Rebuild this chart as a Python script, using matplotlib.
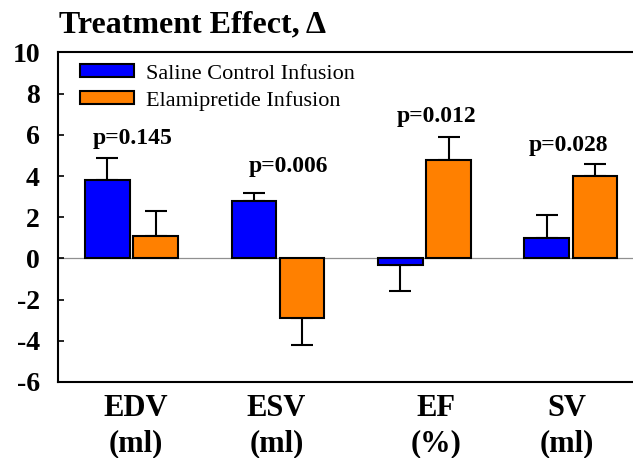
import numpy as np
import matplotlib
matplotlib.use('Agg')
import matplotlib.pyplot as plt
from matplotlib.transforms import blended_transform_factory

plt.rcParams['font.family'] = ['Liberation Serif', 'DejaVu Serif']
plt.rcParams['axes.unicode_minus'] = False

categories = ['EDV\n(ml)', 'ESV\n(ml)', 'EF\n(%)', 'SV\n(ml)']
saline = [3.8, 2.8, -0.3, 1.0]
saline_err = [1.1, 0.4, 1.3, 1.1]
elami = [1.1, -2.9, 4.8, 4.0]
elami_err = [1.2, 1.3, 1.1, 0.6]
p_values = ['p=0.145', 'p=0.006', 'p=0.012', 'p=0.028']
p_heights = [5.8, 4.45, 6.87, 5.5]

x = np.arange(len(categories))
w = 0.305
off = 0.165

fig = plt.figure(figsize=(6.33, 4.58), dpi=100)
ax = fig.add_axes([0.0916, 0.166, 0.9084, 0.7194])


def one_sided(vals, errs):
    # error bar only on the side away from zero
    lo = [e if v < 0 else 0 for v, e in zip(vals, errs)]
    hi = [e if v >= 0 else 0 for v, e in zip(vals, errs)]
    return [lo, hi]


ax.axhline(0, color='#909090', lw=0.9, zorder=1)
ax.bar(x - off, saline, w, color='#0000ff', edgecolor='black', lw=1.5,
       label='Saline Control Infusion', zorder=3)
ax.bar(x + off, elami, w, color='#ff8000', edgecolor='black', lw=1.5,
       label='Elamipretide Infusion', zorder=3)
ax.errorbar(x - off, saline, yerr=one_sided(saline, saline_err), fmt='none',
            ecolor='black', elinewidth=1.5, capsize=7.6, capthick=1.5, zorder=2)
ax.errorbar(x + off, elami, yerr=one_sided(elami, elami_err), fmt='none',
            ecolor='black', elinewidth=1.5, capsize=7.6, capthick=1.5, zorder=2)

p_dx = [0.009, 0.07, 0.085, -0.016]
for i, (p, h) in enumerate(zip(p_values, p_heights)):
    ax.text(x[i] + p_dx[i], h, p, ha='center', va='center',
            fontsize=17, fontweight='bold')

ax.set_xlim(-0.503, 3.425)
ax.set_ylim(-6, 10)
ax.set_yticks(np.arange(-6, 11, 2))
ax.set_xticks([])
ax.spines['right'].set_visible(False)
for s in ['left', 'bottom', 'top']:
    ax.spines[s].set_linewidth(1.5)
ax.tick_params(axis='y', direction='in', length=4, width=1.2, labelsize=20, pad=13)
for lab in ax.get_yticklabels():
    lab.set_fontweight('bold')

trans = blended_transform_factory(ax.transData, ax.transAxes)
lab_dx = [0.03, -0.01, 0.08, -0.026]
for i, c in enumerate(categories):
    ax.text(x[i] + lab_dx[i], -0.035, c, transform=trans, ha='center', va='top',
            fontsize=22, fontweight='bold', linespacing=1.3)

ax.legend(loc='upper left', bbox_to_anchor=(0.022, 0.992), frameon=False,
          fontsize=16, handlelength=2.45, handleheight=0.55, labelspacing=0.32,
          borderaxespad=0.0, handletextpad=0.55)

fig.text(59 / 633, 1 - 32 / 458, 'Treatment Effect, Δ', fontsize=23, fontweight='bold',
         ha='left', va='baseline')

fig.savefig('out.png', dpi=100)
